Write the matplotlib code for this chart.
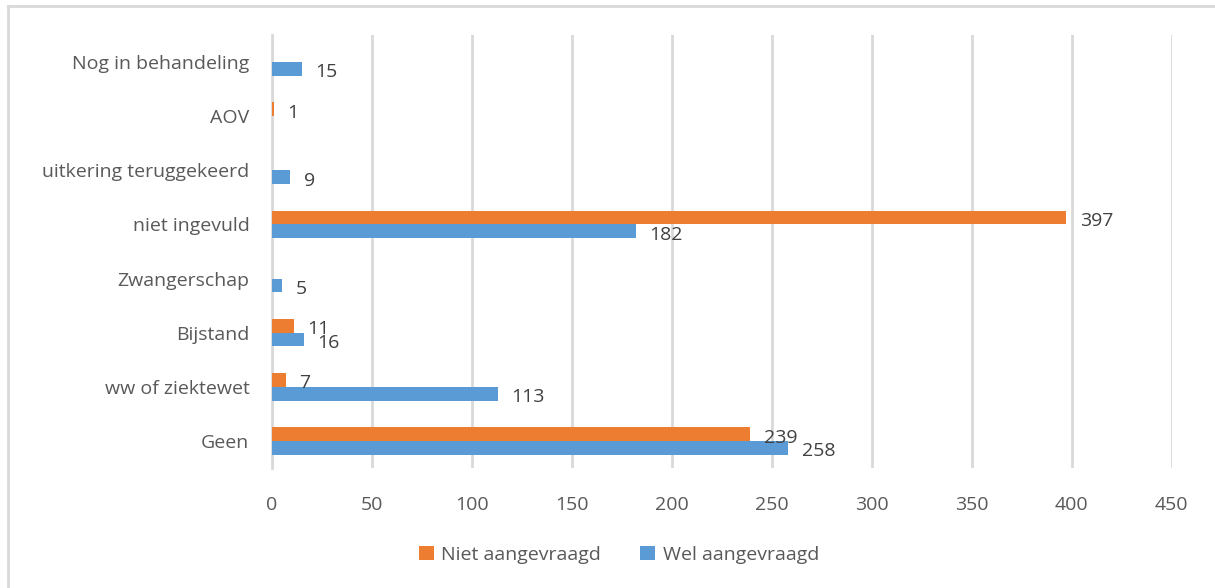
import matplotlib
matplotlib.use("Agg")
import matplotlib.pyplot as plt
from matplotlib.lines import Line2D
from matplotlib.patches import Patch
import numpy as np

categories = ["Geen", "ww of ziektewet", "Bijstand", "Zwangerschap",
              "niet ingevuld", "uitkering teruggekeerd", "AOV", "Nog in behandeling"]
niet_aangevraagd = [239, 7, 11, 0, 397, 0, 1, 0]
wel_aangevraagd = [258, 113, 16, 5, 182, 9, 0, 15]
series_names = ["Niet aangevraagd", "Wel aangevraagd"]
x_ticks = [0, 50, 100, 150, 200, 250, 300, 350, 400, 450]

ORANGE = "#ED7D31"
BLUE = "#5B9BD5"
TXT = "#595959"
LBL = "#404040"
FONT = "Open Sans"

plt.rcParams['font.family'] = [FONT, 'DejaVu Sans']

fig = plt.figure(figsize=(12.15, 5.88), dpi=100)
ax = fig.add_axes([271.7 / 1215, 1 - 468 / 588, 900 / 1215, 433 / 588])

y = np.arange(len(categories))
h = 0.255
ax.barh(y + h / 2, niet_aangevraagd, height=h, color=ORANGE, zorder=3)
ax.barh(y - h / 2, wel_aangevraagd, height=h, color=BLUE, zorder=3)

for vals, off in ((niet_aangevraagd, h / 2), (wel_aangevraagd, -h / 2)):
    for yi, v in zip(y, vals):
        if v:
            ax.annotate(str(v), (v, yi + off), xytext=(10, -2.5), textcoords="offset points",
                        ha="left", va="center", fontsize=14, color=LBL, zorder=4)

ax.set_xlim(0, 450)
ax.set_ylim(-0.5, len(categories) - 0.5)
ax.set_xticks(x_ticks)
ax.set_xticklabels([str(t) for t in x_ticks], fontsize=14, color=TXT)
ax.set_yticks(y)
ax.set_yticklabels(categories, fontsize=14, color=TXT)
ax.tick_params(axis="both", length=0)
ax.tick_params(axis="x", pad=20)
ax.tick_params(axis="y", pad=16)
for lab in ax.get_yticklabels():
    lab.set_y(lab.get_position()[1])
ax.xaxis.grid(True, color="#D9D9D9", linewidth=2, zorder=0)
for s in ("top", "right", "bottom"):
    ax.spines[s].set_visible(False)
ax.spines["left"].set_color("#D9D9D9")
ax.spines["left"].set_linewidth(2)
ax.spines["left"].set_zorder(1)

handles = [Patch(facecolor=ORANGE), Patch(facecolor=BLUE)]
fig.legend(handles, series_names, loc="center", bbox_to_anchor=(619 / 1215, 1 - 555 / 588),
           ncol=2, frameon=False, fontsize=14, labelcolor=TXT, handlelength=0.75,
           handleheight=0.75, handletextpad=0.4, columnspacing=2.0)

# chart frame
fig.add_artist(Line2D([8 / 1215, 1], [1 - 6 / 588, 1 - 6 / 588], transform=fig.transFigure,
                      color="#D9D9D9", linewidth=2))
fig.add_artist(Line2D([8 / 1215, 8 / 1215], [0, 1 - 6 / 588], transform=fig.transFigure,
                      color="#D9D9D9", linewidth=2))

fig.savefig("out.png", dpi=100, facecolor="white")
